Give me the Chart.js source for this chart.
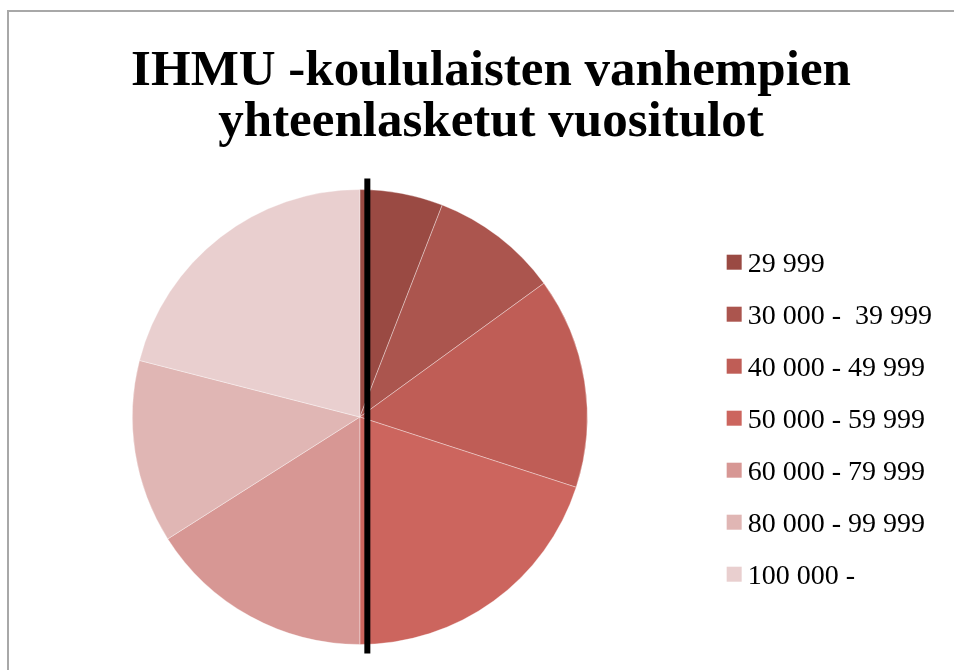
<!DOCTYPE html>
<html>
<head>
<meta charset="utf-8">
<script src="https://cdn.jsdelivr.net/npm/chart.js@4"></script>
<style>
  html, body { margin: 0; padding: 0; background: #ffffff; }
  #wrap { position: relative; width: 954px; height: 670px; overflow: hidden; }
  #frame { position: absolute; left: 7px; top: 10px; width: 960px; height: 680px;
           border-top: 2px solid #a8a8a8; border-left: 2px solid #a8a8a8; box-sizing: border-box; }
  canvas { position: absolute; left: 0; top: 0; }
</style>
</head>
<body>
<div id="wrap">
  <div id="frame"></div>
  <canvas id="c" width="954" height="670"></canvas>
</div>
<script>
const titleLines = ["IHMU -koululaisten vanhempien", "yhteenlasketut vuositulot"];
const categories = ["29 999", "30 000 -  39 999", "40 000 - 49 999", "50 000 - 59 999",
                    "60 000 - 79 999", "80 000 - 99 999", "100 000 -"];
const shares = [5.9, 9.1, 15.0, 20.0, 16.0, 13.0, 21.0];
const sliceColors = ["#9a4a43", "#ab554e", "#bf5d56", "#cc655e", "#d79794", "#e0b6b4", "#e9cfcf"];

const LEGEND_FONT = 28;
const LEGEND_BOXW = 30;

const markerLine = {
  id: 'markerLine',
  afterDatasetsDraw(chart) {
    const arc = chart.getDatasetMeta(0).data[0];
    if (!arc) return;
    const ctx = chart.ctx;
    ctx.save();
    ctx.fillStyle = '#000000';
    ctx.fillRect(arc.x + 4.5, arc.y - arc.outerRadius - 11, 6, arc.outerRadius * 2 + 20);
    ctx.restore();
  }
};

// draws the legend swatches closer to their labels (like the reference)
const legendSwatches = {
  id: 'legendSwatches',
  afterDraw(chart) {
    const lg = chart.legend;
    if (!lg || !lg.legendHitBoxes) return;
    const ctx = chart.ctx;
    ctx.save();
    lg.legendHitBoxes.forEach((hb, i) => {
      const textX = hb.left + LEGEND_BOXW + LEGEND_FONT / 2;
      const cy = hb.top + LEGEND_FONT / 2;
      ctx.fillStyle = sliceColors[i];
      ctx.fillRect(textX - 21, cy - 9.5, 15, 15);
    });
    ctx.restore();
  }
};

new Chart(document.getElementById('c'), {
  type: 'pie',
  data: {
    labels: categories,
    datasets: [{
      data: shares,
      backgroundColor: sliceColors,
      borderColor: 'rgba(255,255,255,0.35)',
      borderWidth: 1
    }]
  },
  options: {
    responsive: false,
    animation: false,
    layout: { padding: { left: 40, right: 12, top: 0, bottom: 25 } },
    plugins: {
      title: {
        display: true,
        text: titleLines,
        color: '#000000',
        font: { family: "'Liberation Serif', serif", size: 51, weight: 'bold', lineHeight: 1.0 },
        padding: { top: 46, bottom: 41 }
      },
      legend: {
        position: 'right',
        align: 'start',
        title: { display: true, text: ' ', font: { size: 6 }, padding: { top: 219, bottom: 0 } },
        labels: {
          color: '#000000',
          font: { family: "'Liberation Serif', serif", size: LEGEND_FONT },
          boxWidth: LEGEND_BOXW,
          boxHeight: 15,
          padding: 24,
          generateLabels(chart) {
            const items = Chart.overrides.pie.plugins.legend.labels.generateLabels(chart);
            items.forEach(it => { it.fillStyle = 'rgba(0,0,0,0)'; it.strokeStyle = 'rgba(0,0,0,0)'; it.lineWidth = 0; });
            return items;
          }
        }
      },
      tooltip: { enabled: false }
    }
  },
  plugins: [markerLine, legendSwatches]
});
</script>
</body>
</html>
